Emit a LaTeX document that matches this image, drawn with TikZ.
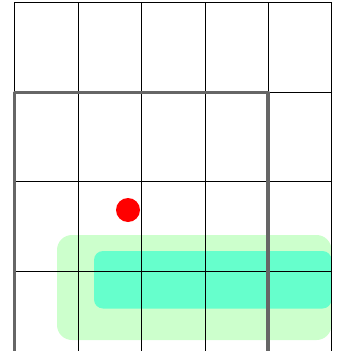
\documentclass[tikz,border=0pt]{standalone}
\definecolor{palegreen}{HTML}{CCFFCC}
\definecolor{aquamarine}{HTML}{66FFCC}
\definecolor{framegray}{HTML}{666666}
\begin{document}
\begin{tikzpicture}[x=1pt,y=-1pt,line join=round,line cap=round]
	\useasboundingbox (0,0) rectangle (340,351);
	
	\fill[palegreen,rounded corners=15pt] (57,235) rectangle (331.5,340);
	\fill[aquamarine,rounded corners=9pt] (94,251) rectangle (331.5,308.5);
	
	\foreach \x in {14.5,78,141.5,205,268,331.5}
	\draw[line width=1pt] (\x,2.5) -- (\x,356);
	\foreach \y in {2.5,92,181.5,271.5}
	\draw[line width=1pt] (14.5,\y) -- (331.5,\y);
	
	\draw[framegray,line width=3.6pt,line cap=butt] (14.5,356) -- (14.5,92.5) -- (268,92.5) -- (268,356);
	
	\fill[red] (128,210) circle (12pt);
\end{tikzpicture}
\end{document}
